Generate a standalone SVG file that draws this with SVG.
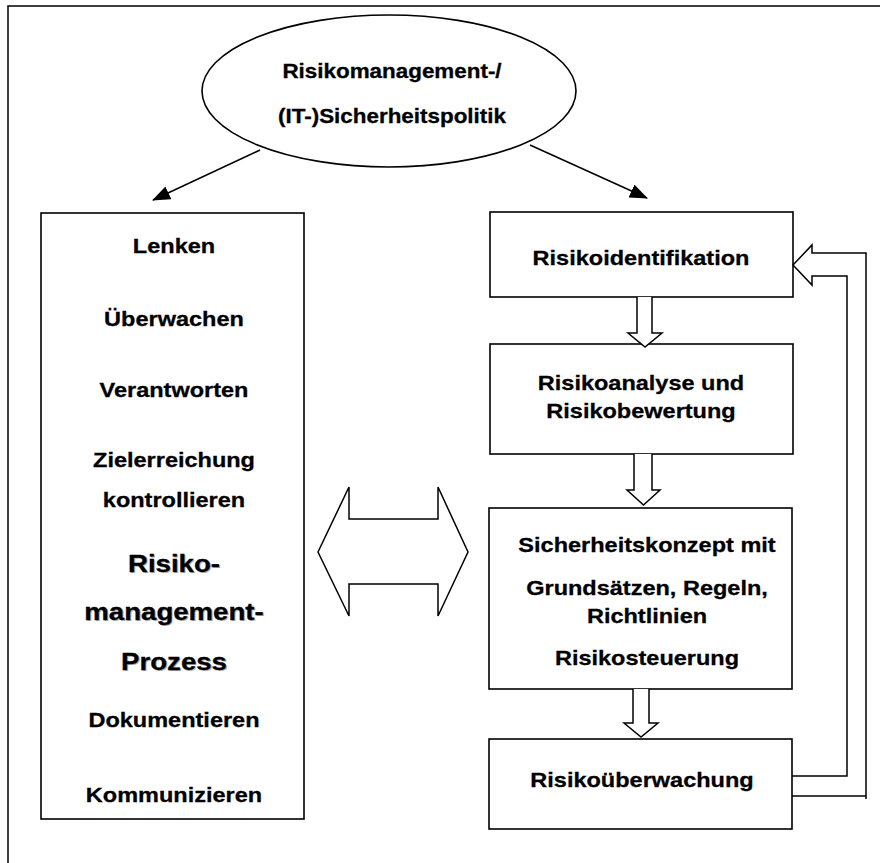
<svg xmlns="http://www.w3.org/2000/svg" width="880" height="863" viewBox="0 0 880 863">
  <defs>
    <marker id="head" viewBox="0 0 18 14" refX="17" refY="7" markerWidth="18" markerHeight="14" markerUnits="userSpaceOnUse" orient="auto">
      <path d="M0,0 L18,7 L0,14 Z" fill="#000"/>
    </marker>
  </defs>
  <style>
    .box { fill: #fff; stroke: #000; stroke-width: 1.6; }
    .line { fill: none; stroke: #000; stroke-width: 1.5; }
    .block { fill: #fff; stroke: #000; stroke-width: 1.5; stroke-linejoin: miter; }
    text { font-family: "Liberation Sans", Arial, sans-serif; font-weight: bold; fill: #000; stroke: #000; stroke-width: 0.3; text-anchor: middle; }
    .t { font-size: 21px; }
    .e { font-size: 19.5px; }
    .big { font-size: 24px; }
    text.shadow { fill: #b4b4b4; stroke: none; }
  </style>

  <rect width="880" height="863" fill="#fff"/>

  <!-- page frame: top and left rule -->
  <path class="line" d="M8,863 V6 H880" stroke-width="2"/>

  <!-- policy ellipse -->
  <g id="policy">
    <ellipse class="box" cx="389" cy="91" rx="187" ry="76" stroke-width="1.5"/>
    <text class="e" transform="translate(392,78) scale(1.15,1)">Risikomanagement-/</text>
    <text class="e" transform="translate(392,123) scale(1.15,1)">(IT-)Sicherheitspolitik</text>
  </g>

  <!-- management process column -->
  <g id="process">
    <rect class="box" x="41" y="213" width="263" height="606"/>
    <text class="t" transform="translate(174,253) scale(1.12,1)">Lenken</text>
    <text class="t" transform="translate(174,326) scale(1.12,1)">Überwachen</text>
    <text class="t" transform="translate(174,397) scale(1.12,1)">Verantworten</text>
    <text class="t" transform="translate(174,467) scale(1.12,1)">Zielerreichung</text>
    <text class="t" transform="translate(174,507) scale(1.12,1)">kontrollieren</text>
    <!-- heading with a soft drop shadow -->
    <text class="big shadow" transform="translate(175.2,573.2) scale(1.15,1)">Risiko-</text>
    <text class="big shadow" transform="translate(175.2,621.2) scale(1.15,1)">management-</text>
    <text class="big shadow" transform="translate(175.2,671.2) scale(1.15,1)">Prozess</text>
    <text class="big" transform="translate(174,572) scale(1.15,1)">Risiko-</text>
    <text class="big" transform="translate(174,620) scale(1.15,1)">management-</text>
    <text class="big" transform="translate(174,670) scale(1.15,1)">Prozess</text>
    <text class="t" transform="translate(174,727) scale(1.12,1)">Dokumentieren</text>
    <text class="t" transform="translate(174,802) scale(1.12,1)">Kommunizieren</text>
  </g>

  <!-- risk cycle steps -->
  <g id="identification">
    <rect class="box" x="490" y="212" width="303" height="85"/>
    <text class="t" transform="translate(641,265) scale(1.12,1)">Risikoidentifikation</text>
  </g>
  <g id="analysis">
    <rect class="box" x="490" y="344" width="303" height="110"/>
    <text class="t" transform="translate(641,390) scale(1.12,1)">Risikoanalyse und</text>
    <text class="t" transform="translate(641,418) scale(1.12,1)">Risikobewertung</text>
  </g>
  <g id="concept">
    <rect class="box" x="489" y="508" width="303" height="181"/>
    <text class="t" transform="translate(647,552) scale(1.12,1)">Sicherheitskonzept mit</text>
    <text class="t" transform="translate(647,595) scale(1.12,1)">Grundsätzen, Regeln,</text>
    <text class="t" transform="translate(647,623) scale(1.12,1)">Richtlinien</text>
    <text class="t" transform="translate(647,665) scale(1.12,1)">Risikosteuerung</text>
  </g>
  <g id="monitoring">
    <rect class="box" x="489" y="739" width="303" height="90"/>
    <text class="t" transform="translate(642,787) scale(1.12,1)">Risikoüberwachung</text>
  </g>

  <!-- connectors -->
  <g id="connectors">
    <!-- from policy to both columns -->
    <line class="line" x1="260" y1="150" x2="153" y2="200" marker-end="url(#head)"/>
    <line class="line" x1="530" y1="145" x2="647" y2="198" marker-end="url(#head)"/>

    <!-- hollow block arrows between steps -->
    <path class="block" d="M637,297 V333 H628 L645,347 L662,333 H652 V297"/>
    <path class="block" d="M634,454 V490 H627 L643.5,505 L660,490 H652 V454"/>
    <path class="block" d="M633,689 V723 H624 L641,737 L658,723 H649 V689"/>

    <!-- two-way block arrow between process and cycle -->
    <path class="block" d="M318,552 L349,487 V519 H438 V487 L468,552 L438,616 V584 H349 V616 Z"/>

    <!-- feedback loop from monitoring back to identification -->
    <path class="line" d="M792,776 H847 V276 H812 V285 L793,265 L812,245 V253 H866 V799"/>
    <path class="line" d="M792,796 H866"/>
  </g>
</svg>
